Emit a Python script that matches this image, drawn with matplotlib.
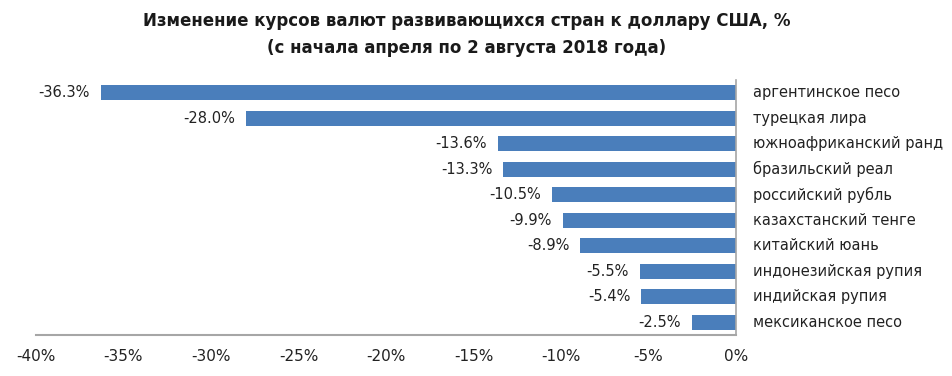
import matplotlib
matplotlib.use("Agg")
import matplotlib.pyplot as plt
from matplotlib.ticker import FuncFormatter

currencies = [
    "аргентинское песо",
    "турецкая лира",
    "южноафриканский ранд",
    "бразильский реал",
    "российский рубль",
    "казахстанский тенге",
    "китайский юань",
    "индонезийская рупия",
    "индийская рупия",
    "мексиканское песо",
]
changes = [-36.3, -28.0, -13.6, -13.3, -10.5, -9.9, -8.9, -5.5, -5.4, -2.5]
ticks = [-40, -35, -30, -25, -20, -15, -10, -5, 0]

plt.rcParams['font.family'] = ['DejaVu Sans']

fig = plt.figure(figsize=(9.52, 3.76), dpi=100)
ax = fig.add_axes([0.0378, 0.109, 0.7353, 0.678])

pos = list(range(len(currencies)))
ax.barh(pos, changes, height=0.6, color='#4a7ebb')

for y, v in zip(pos, changes):
    ax.annotate("%.1f%%" % v, (v, y), xytext=(-8, 0), textcoords='offset points',
                ha='right', va='center', fontsize=10.5, color='#222222')

for y, name in zip(pos, currencies):
    ax.annotate(name, (0, y), xytext=(12, 0), textcoords='offset points',
                ha='left', va='center', fontsize=10.5, color='#222222',
                annotation_clip=False)

ax.set_xlim(-40, 0)
ax.set_ylim(9.5, -0.5)
ax.set_xticks(ticks)
ax.xaxis.set_major_formatter(FuncFormatter(lambda v, p: "%d%%" % v))
ax.tick_params(axis='x', length=0, pad=10, labelsize=11, colors='#222222')
ax.set_yticks([])

for s in ['top', 'left']:
    ax.spines[s].set_visible(False)
ax.spines['bottom'].set_color('#a6a6a6')
ax.spines['bottom'].set_linewidth(1.5)
ax.spines['right'].set_color('#a6a6a6')
ax.spines['right'].set_linewidth(1.2)

fig.text(0.49, 0.945, "Изменение курсов валют развивающихся стран к доллару США, %",
         ha='center', va='center', fontsize=12, fontweight='bold', color='#1a1a1a')
fig.text(0.49, 0.873, "(с начала апреля по 2 августа 2018 года)",
         ha='center', va='center', fontsize=12, fontweight='bold', color='#1a1a1a')

fig.savefig("out.png", dpi=100)
